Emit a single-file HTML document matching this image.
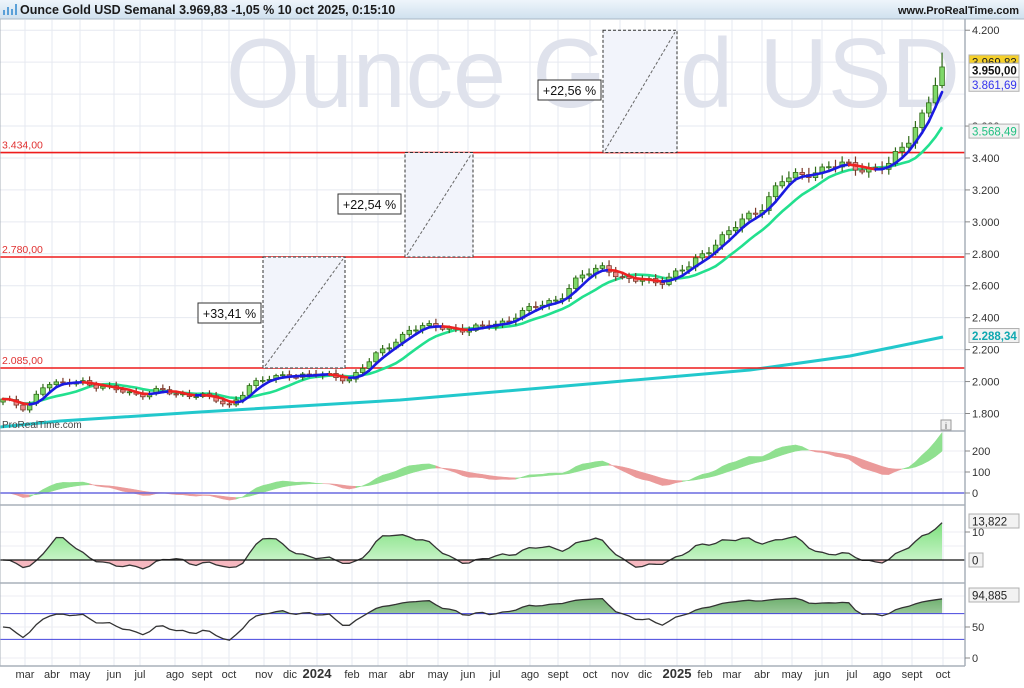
<!DOCTYPE html>
<html><head><meta charset="utf-8"><style>
html,body{margin:0;padding:0;background:#fff;}
body{width:1024px;height:683px;overflow:hidden;font-family:"Liberation Sans",sans-serif;}
svg text{font-family:"Liberation Sans",sans-serif;}
</style></head><body>
<svg id="s" width="1024" height="683" viewBox="0 0 1024 683" xmlns="http://www.w3.org/2000/svg">
<defs>
<linearGradient id="hdr" x1="0" y1="0" x2="0" y2="1"><stop offset="0" stop-color="#eef5fb"/><stop offset="1" stop-color="#cfe0ee"/></linearGradient>
<linearGradient id="gg" x1="0" y1="0" x2="0" y2="1"><stop offset="0" stop-color="#70b070"/><stop offset="1" stop-color="#e0f2e0"/></linearGradient>
<linearGradient id="g3" x1="0" y1="0" x2="0" y2="1"><stop offset="0" stop-color="#7ee07e"/><stop offset="1" stop-color="#d8f8d8"/></linearGradient>
<clipPath id="cm"><rect x="0" y="19" width="965" height="412"/></clipPath>
<clipPath id="c2"><rect x="0" y="432" width="965" height="73"/></clipPath>
<clipPath id="c3"><rect x="0" y="506" width="965" height="77"/></clipPath>
<clipPath id="c4"><rect x="0" y="584" width="965" height="82"/></clipPath>
<clipPath id="ab"><rect x="0" y="506" width="965" height="54"/></clipPath>
<clipPath id="bl"><rect x="0" y="560" width="965" height="30"/></clipPath>
<clipPath id="ob"><rect x="0" y="584" width="965" height="29.6"/></clipPath>
<clipPath id="os"><rect x="0" y="639.4" width="965" height="30"/></clipPath>
</defs>
<rect x="0" y="0" width="1024" height="19" fill="url(#hdr)"/>
<line x1="0" y1="19" x2="1024" y2="19" stroke="#a9b8c6"/>
<g fill="#5aa0d8"><rect x="3" y="10" width="2" height="5"/><rect x="7" y="7" width="2" height="8"/><rect x="11" y="9" width="2" height="6"/><rect x="15" y="4" width="2" height="11"/></g>
<text x="20" y="14" font-size="12.5" font-weight="bold" fill="#1a1a1a">Ounce Gold USD Semanal 3.969,83 -1,05 % 10 oct 2025, 0:15:10</text>
<text x="1019" y="14" font-size="11" font-weight="bold" fill="#1a1a1a" text-anchor="end">www.ProRealTime.com</text>
<g id="grid"></g>
<text x="226" y="107" font-size="98" fill="#dfe2ec" textLength="734" lengthAdjust="spacingAndGlyphs">Ounce Gold USD</text>
<g id="main" clip-path="url(#cm)"></g>
<g id="p2" clip-path="url(#c2)"></g>
<g id="p3" clip-path="url(#c3)"></g>
<g id="p4" clip-path="url(#c4)"></g>
<g id="axes"></g>
</svg>
<script>
const NS="http://www.w3.org/2000/svg";
function el(p,t,a,txt){const e=document.createElementNS(NS,t);for(const k in a)e.setAttribute(k,a[k]);if(txt!==undefined)e.textContent=txt;document.getElementById(p).appendChild(e);return e;}
const Y=p=>257-(p-2780)*0.1597;
const months=[["mar",25],["abr",52],["may",80],["jun",114],["jul",140],["ago",175],["sept",202],["oct",229],["nov",264],["dic",290],["2024",317],["feb",352],["mar",378],["abr",407],["may",438],["jun",468],["jul",495],["ago",530],["sept",558],["oct",590],["nov",620],["dic",645],["2025",677],["feb",705],["mar",732],["abr",762],["may",792],["jun",822],["jul",852],["ago",882],["sept",912],["oct",943]];
months.forEach(m=>{el("grid","line",{x1:m[1],y1:20,x2:m[1],y2:666,stroke:"#e6e9f0"});
 const yr=m[0][0]=="2";
 el("axes","text",{x:m[1],y:678,"font-size":yr?13:11,"font-weight":yr?"bold":"normal","text-anchor":"middle",fill:"#333"},m[0]);});
for(let p=1800;p<=4200;p+=200){el("grid","line",{x1:0,y1:Y(p),x2:965,y2:Y(p),stroke:"#e6e9f0"});}
[451,472].forEach(v=>el("grid","line",{x1:0,y1:v,x2:965,y2:v,stroke:"#eceef3"}));
[532,546].forEach(v=>el("grid","line",{x1:0,y1:v,x2:965,y2:v,stroke:"#eceef3"}));
[596,627,658].forEach(v=>el("grid","line",{x1:0,y1:v,x2:965,y2:v,stroke:"#eceef3"}));
[431,505,583,666].forEach(v=>el("axes","line",{x1:0,y1:v,x2:965,y2:v,stroke:"#a8b0ba","stroke-width":1.5}));
el("axes","line",{x1:965,y1:19,x2:965,y2:666,stroke:"#a8b0ba","stroke-width":1.5});
el("axes","line",{x1:0,y1:19,x2:0,y2:666,stroke:"#a8b0ba","stroke-width":1});
const anc=[[0,1890],[25,1830],[45,1990],[60,1975],[80,2010],[100,1965],[140,1920],[160,1945],[175,1915],[200,1925],[229,1840],[250,1985],[290,2045],[317,2040],[350,2020],[378,2170],[410,2330],[440,2345],[470,2320],[500,2370],[530,2450],[560,2530],[580,2650],[605,2730],[625,2630],[660,2630],[690,2720],[720,2900],[760,3080],[780,3260],[800,3280],[830,3360],[860,3330],[890,3360],[910,3520],[925,3720],[936,3880],[943,3969]];
function base(x){for(let i=1;i<anc.length;i++){if(x<=anc[i][0]){const a=anc[i-1],b=anc[i];return a[1]+(b[1]-a[1])*(x-a[0])/(b[0]-a[0]);}}return anc[anc.length-1][1];}
const N=142,C=[],O=[],H=[],L=[],X=[];
for(let i=0;i<N;i++){const x=3+i*6.66;X.push(x);let c=base(x)*(1+0.006*Math.sin(i*1.7)+0.005*Math.sin(i*0.8+1));if(i==N-1)c=3969.83;C.push(c);}
for(let i=0;i<N;i++){const o=i?C[i-1]:C[0]*0.99;O.push(o);const hi=Math.max(o,C[i]),lo=Math.min(o,C[i]);H.push(hi*(1+0.005+0.008*Math.abs(Math.sin(i*2.3))));L.push(lo*(1-0.004-0.007*Math.abs(Math.sin(i*1.3+2))));}
H[N-1]=4060;
function sma(n){return C.map((_,i)=>{let s=0,k=0;for(let j=Math.max(0,i-n+1);j<=i;j++){s+=C[j];k++;}return s/k;});}
const m4=sma(4),m10=sma(10);
el("main","polyline",{points:"0,427 60,421 200,412 400,400 600,383 750,370 850,356 943,337",fill:"none",stroke:"#22c8cc","stroke-width":3});
[[3434,"3.434,00"],[2780,"2.780,00"],[2085,"2.085,00"]].forEach(l=>{el("main","line",{x1:0,y1:Y(l[0]),x2:965,y2:Y(l[0]),stroke:"#ee1c1c","stroke-width":1.6});el("main","text",{x:2,y:Y(l[0])-4,"font-size":10.5,fill:"#e03030"},l[1]);});
[[263,2085,345,2780,198,303,"+33,41 %"],[405,2780,473,3434,338,194,"+22,54 %"],[603,3434,677,4200,538,80,"+22,56 %"]].forEach(b=>{const y1=Y(b[3]),y2=Y(b[1]);
el("main","rect",{x:b[0],y:y1,width:b[2]-b[0],height:y2-y1,fill:"#f2f4fb",stroke:"#333","stroke-dasharray":"3,2"});
el("main","line",{x1:b[0]+2,y1:y2-2,x2:b[2]-2,y2:y1+2,stroke:"#666","stroke-dasharray":"3,2"});
el("main","rect",{x:b[4],y:b[5],width:63,height:20,fill:"#fff",stroke:"#333"});
el("main","text",{x:b[4]+31.5,y:b[5]+15,"font-size":12.5,"text-anchor":"middle",fill:"#111"},b[6]);});
el("main","polyline",{points:X.map((x,i)=>x+","+Y(m10[i]).toFixed(1)).join(" "),fill:"none",stroke:"#22e08e","stroke-width":2.6});
for(let i=0;i<N;i++){const up=C[i]>=O[i];const x=X[i];const col=up?"#7fd86a":"#f08a8a",ln=up?"#2f6a17":"#7a3a2a";
el("main","line",{x1:x,y1:Y(H[i]),x2:x,y2:Y(L[i]),stroke:ln,"stroke-width":1.2});
const yt=Y(Math.max(O[i],C[i])),yb=Y(Math.min(O[i],C[i]));el("main","rect",{x:x-2.3,y:yt,width:4.6,height:Math.max(1,yb-yt),fill:col,stroke:ln,"stroke-width":0.8});}
for(let i=1;i<N;i++){el("main","line",{x1:X[i-1],y1:Y(m4[i-1]),x2:X[i],y2:Y(m4[i]),stroke:m4[i]>=m4[i-1]?"#1a1ae0":"#ee2222","stroke-width":2.6,"stroke-linecap":"round"});}
el("main","text",{x:2,y:428,"font-size":10,fill:"#444"},"ProRealTime.com");
el("axes","rect",{x:941,y:420,width:10,height:10,fill:"#eee",stroke:"#999"});el("axes","text",{x:946,y:429,"font-size":9,"text-anchor":"middle",fill:"#555"},"i");
function ema(arr,n){const k=2/(n+1);let e=arr[0];return arr.map(v=>e=v*k+e*(1-k));}
const e5=ema(C,5),e20=ema(C,20);
const A=e5.map((v,i)=>v-e20[i]);const B=ema(A,8);
const y2=v=>493-v*0.21;
for(let i=1;i<N;i++){const g=A[i]>=B[i];el("p2","polygon",{points:`${X[i-1]},${y2(A[i-1])} ${X[i]},${y2(A[i])} ${X[i]},${y2(B[i])} ${X[i-1]},${y2(B[i-1])}`,fill:g?"#8fe08f":"#eb9a9a",stroke:g?"#8fe08f":"#eb9a9a","stroke-width":0.5});}
el("p2","line",{x1:0,y1:493,x2:965,y2:493,stroke:"#6a6ae0","stroke-width":1.5});
const mom=C.map((c,i)=>{const j=Math.max(0,i-5);return (c/C[j]-1)*100;});const ms=ema(mom,3);
const y3=v=>560-v*3.2;
let p3="";for(let i=0;i<N;i++)p3+=X[i]+","+y3(ms[i]).toFixed(1)+" ";
const poly3=X[0]+",560 "+p3+X[N-1]+",560";
el("p3","polygon",{points:poly3,fill:"url(#g3)","clip-path":"url(#ab)"});
el("p3","polygon",{points:poly3,fill:"#f6b8c0","clip-path":"url(#bl)"});
el("p3","polyline",{points:p3,fill:"none",stroke:"#333","stroke-width":1.3});
el("p3","line",{x1:0,y1:560,x2:965,y2:560,stroke:"#111","stroke-width":1.2});
let ag=8,al=8;const rsi=[];for(let i=0;i<N;i++){const d=i?C[i]-C[i-1]:0;const n=9;ag=(ag*(n-1)+Math.max(d,0))/n;al=(al*(n-1)+Math.max(-d,0))/n;rsi.push(100-100/(1+ag/al));}
const rs=ema(rsi,2);
const y4=v=>658-v*0.62;let p4="";for(let i=0;i<N;i++)p4+=X[i]+","+y4(rs[i]).toFixed(1)+" ";
el("p4","polygon",{points:X[0]+",613.6 "+p4+X[N-1]+",613.6",fill:"url(#gg)","clip-path":"url(#ob)"});
el("p4","polygon",{points:X[0]+",639.4 "+p4+X[N-1]+",639.4",fill:"#f5b890","clip-path":"url(#os)"});
el("p4","line",{x1:0,y1:613.6,x2:965,y2:613.6,stroke:"#4444dd"});
el("p4","line",{x1:0,y1:639.4,x2:965,y2:639.4,stroke:"#4444dd"});
el("p4","polyline",{points:p4,fill:"none",stroke:"#333","stroke-width":1.3});
function tick(y){el("axes","line",{x1:965,y1:y,x2:970,y2:y,stroke:"#888"});}
[4200,3600,3400,3200,3000,2800,2600,2400,2200,2000,1800].forEach(p=>{tick(Y(p));el("axes","text",{x:972,y:Y(p)+4,"font-size":11,fill:"#333"},(p/1000).toFixed(3));});
function box(y,t,col,bg,bold){el("axes","rect",{x:969,y:y-7,width:50,height:14,fill:bg,stroke:"#b0b0b0"});el("axes","text",{x:972,y:y+4.5,"font-size":11.5,fill:col,"font-weight":bold?"bold":"normal"},t);}
box(Y(3969.83)-5,"3.969,83","#222","#f5d02a",false);
box(Y(3950),"3.950,00","#111","#fff",true);
box(Y(3861.69),"3.861,69","#3333ee","#f2f2f2");
box(Y(3568.49),"3.568,49","#20c080","#f2f2f2");
box(Y(2288.34),"2.288,34","#10a8b0","#f2f2f2",true);
[[451,"200"],[472,"100"],[493,"0"],[532,"10"],[627,"50"],[658,"0"]].forEach(t=>{tick(t[0]);el("axes","text",{x:972,y:t[0]+4,"font-size":11,fill:"#333"},t[1]);});
box(521,"13,822","#222","#f2f2f2");
el("axes","rect",{x:969,y:553,width:14,height:14,fill:"#f2f2f2",stroke:"#b0b0b0"});el("axes","text",{x:972,y:564.5,"font-size":11.5,fill:"#222"},"0");
box(595,"94,885","#222","#f2f2f2");
</script>
</body></html>
